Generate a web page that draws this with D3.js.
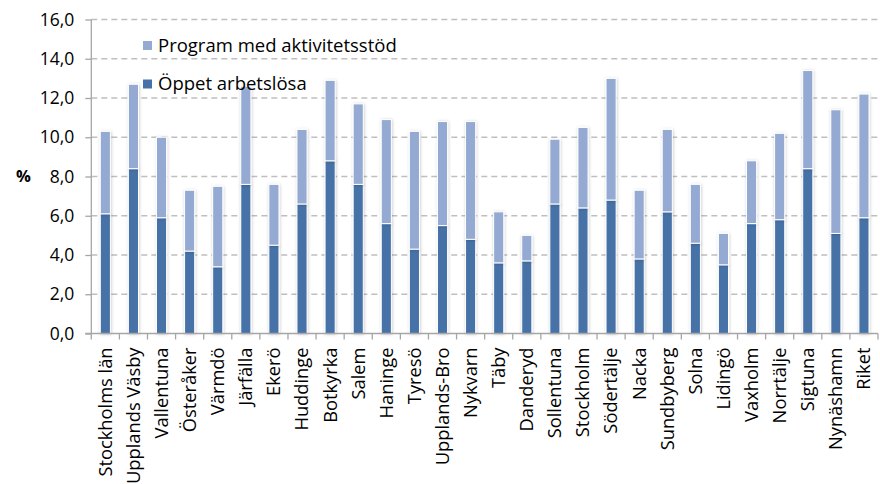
<!DOCTYPE html>
<html>
<head>
<meta charset="utf-8">
<script src="https://cdn.jsdelivr.net/npm/d3@7"></script>
<style>
  body { margin: 0; background: #fff; }
  text { font-family: "Open Sans", sans-serif; fill: #000; }
</style>
</head>
<body>
<svg id="chart" width="880" height="484"></svg>
<script>
const categories = ["Stockholms län","Upplands Väsby","Vallentuna","Österåker","Värmdö","Järfälla","Ekerö","Huddinge","Botkyrka","Salem","Haninge","Tyresö","Upplands-Bro","Nykvarn","Täby","Danderyd","Sollentuna","Stockholm","Södertälje","Nacka","Sundbyberg","Solna","Lidingö","Vaxholm","Norrtälje","Sigtuna","Nynäshamn","Riket"];
const oppetArbetslosa = [6.1,8.4,5.9,4.2,3.4,7.6,4.5,6.6,8.8,7.6,5.6,4.3,5.5,4.8,3.6,3.7,6.6,6.4,6.8,3.8,6.2,4.6,3.5,5.6,5.8,8.4,5.1,5.9];
const programAktivitetsstod = [4.2,4.3,4.1,3.1,4.1,5.0,3.1,3.8,4.1,4.1,5.3,6.0,5.3,6.0,2.6,1.3,3.3,4.1,6.2,3.5,4.2,3.0,1.6,3.2,4.4,5.0,6.3,6.3];
const seriesNames = ["Öppet arbetslösa","Program med aktivitetsstöd"];
const yTicks = [0,2,4,6,8,10,12,14,16];

const colors = {"Öppet arbetslösa":"#4672a8","Program med aktivitetsstöd":"#94aad2"};

const svg = d3.select("#chart");
const mLeft = 91.3, mRight = 878, mTop = 19.5, mBottom = 333.5;

const x = d3.scaleBand().domain(categories).range([mLeft, mRight]).paddingInner(0.64).paddingOuter(0.32);
const y = d3.scaleLinear().domain([0,16]).range([mBottom, mTop]);

const defs = svg.append("defs");
const f = defs.append("filter").attr("id","sh").attr("x","-50%").attr("y","-10%").attr("width","200%").attr("height","120%");
f.append("feDropShadow").attr("dx",0.5).attr("dy",0.5).attr("stdDeviation",1.5).attr("flood-color","#000").attr("flood-opacity",0.22);

// gridlines
svg.append("g").selectAll("line").data(yTicks.filter(d=>d>0)).join("line")
  .attr("x1", mLeft).attr("x2", mRight)
  .attr("y1", d=>y(d)).attr("y2", d=>y(d))
  .attr("stroke","#bfbfbf").attr("stroke-width",1.3).attr("stroke-dasharray","6,4");

// stacked data
const rows = categories.map((c,i)=>({cat:c, "Öppet arbetslösa":oppetArbetslosa[i], "Program med aktivitetsstöd":programAktivitetsstod[i]}));
const stack = d3.stack().keys(seriesNames)(rows);

const gBars = svg.append("g");
gBars.selectAll("g").data(stack).join("g")
  .attr("fill", d=>colors[d.key])
  .selectAll("rect").data(d=>d).join("rect")
  .attr("x", d=>x(d.data.cat))
  .attr("width", x.bandwidth())
  .attr("y", d=>y(d[1]))
  .attr("height", d=>y(d[0])-y(d[1]))
  .attr("stroke","#fff").attr("stroke-width",1)
  .attr("filter","url(#sh)");

// y axis
const yAxis = d3.axisLeft(y).tickValues(yTicks).tickSize(6).tickFormat(d=>d3.format(".1f")(d).replace(".",","));
const ya = svg.append("g").attr("transform",`translate(${mLeft},0)`).call(yAxis);
ya.select(".domain").attr("stroke","#a6a6a6").attr("stroke-width",1.3).attr("d",`M0,${mTop}V${mBottom}`);
ya.selectAll(".tick line").attr("stroke","#a6a6a6").attr("stroke-width",1.3);
ya.selectAll(".tick text").attr("x",-17).attr("font-size","17.5px").attr("fill","#000").style("font-family","'Open Sans', sans-serif");

// x axis
const xa = svg.append("g").attr("transform",`translate(0,${mBottom})`);
xa.append("line").attr("x1",mLeft-6).attr("x2",mRight).attr("y1",0).attr("y2",0).attr("stroke","#a6a6a6").attr("stroke-width",1.3);
const step = x.step();
xa.selectAll("line.tk").data(d3.range(categories.length+1)).join("line").attr("class","tk")
  .attr("x1", i=>mLeft + i*step).attr("x2", i=>mLeft + i*step)
  .attr("y1",0).attr("y2",6).attr("stroke","#a6a6a6").attr("stroke-width",1.3);
xa.selectAll("text").data(categories).join("text")
  .attr("transform", d=>`translate(${x(d)+x.bandwidth()/2},14) rotate(-90)`)
  .attr("text-anchor","end").attr("dy","0.35em")
  .attr("font-size","18.3px").text(d=>d);

// y label
svg.append("text").attr("x",16).attr("y",y(8)).attr("dy","0.35em")
  .attr("font-size","16.5px").attr("font-weight","bold").text("%");

// legend
const legendItems = ["Program med aktivitetsstöd","Öppet arbetslösa"];
const lg = svg.append("g");
legendItems.forEach((k,i)=>{
  const yy = 45.5 + i*38.5;
  lg.append("rect").attr("x",143).attr("y",yy-4.5).attr("width",9).attr("height",9).attr("fill",colors[k]);
  lg.append("text").attr("x",158).attr("y",yy).attr("dy","0.35em").attr("font-size","18.5px").text(k);
});
</script>
</body>
</html>
